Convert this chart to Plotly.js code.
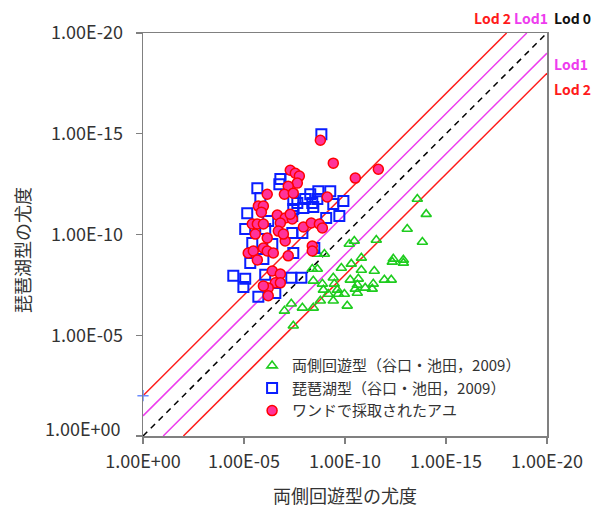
<!DOCTYPE html>
<html>
<head>
<meta charset="utf-8">
<script src="https://cdn.plot.ly/plotly-3.0.1.min.js"></script>
<style>html,body{margin:0;padding:0;background:#fff;}#chart{width:592px;height:511px;}</style>
</head>
<body>
<div id="chart"></div>
<script>
// Values are exponents: likelihood = 10^(-value)
const greenX = [13.58,14.02,13.08,13.83,11.55,10.46,10.21,8.63,8.98,12.39,12.34,12.89,12.89,10.31,10.81,9.82,10.81,11.45,8.38,8.63,8.43,8.88,9.42,9.47,10.26,10.66,10.61,11.40,11.95,12.29,8.93,9.62,9.67,9.97,10.51,11.00,11.35,10.61,9.17,8.78,9.42,10.11,7.34,7.89,8.43,7.00,7.44];
const greenY = [11.76,11.01,10.27,9.63,9.73,9.68,9.53,9.03,9.03,8.79,8.64,8.74,8.59,8.54,8.84,8.34,8.24,8.19,8.29,8.29,7.70,7.55,7.85,7.55,7.75,7.80,7.50,7.55,7.75,7.75,7.25,7.25,7.05,7.05,7.30,7.35,7.30,7.10,7.05,6.71,6.71,6.46,6.56,6.36,6.36,6.21,5.47];

const blueX = [8.83,5.66,5.81,6.80,6.75,7.29,5.16,7.64,8.03,8.28,8.68,9.27,7.94,7.44,8.38,8.43,9.42,9.92,9.07,9.72,6.20,7.39,5.06,6.05,5.41,6.40,7.39,7.89,5.31,5.96,7.44,8.48,4.47,5.06,4.97,6.05,7.34,7.84,6.55,5.71,7.44,8.63];
const blueY = [14.98,12.30,11.81,12.75,12.50,12.75,11.06,11.56,11.76,12.00,12.15,12.15,11.31,11.26,11.56,11.36,11.51,11.66,10.82,10.92,10.67,10.92,10.27,10.27,9.58,9.53,10.07,10.07,8.59,8.79,9.08,9.33,7.95,7.80,7.40,8.00,7.85,7.85,7.10,6.91,11.71,11.76];

const redX = [8.78,9.42,10.51,11.65,7.29,7.54,7.74,7.64,7.19,7.00,7.44,6.15,5.71,5.96,5.86,6.65,7.04,7.39,6.80,7.94,8.33,8.73,8.88,5.41,5.66,5.96,5.56,6.15,6.70,7.04,5.21,5.46,5.66,5.96,6.15,6.45,7.19,6.40,6.80,6.55,6.80,6.20,5.96,6.20,9.12,8.38,8.38,7.29,6.95];
const redY = [14.68,13.54,12.80,13.24,13.19,13.04,12.90,12.55,12.40,12.00,12.05,12.00,11.41,11.41,11.11,10.97,10.82,10.77,10.57,10.37,10.57,10.52,10.32,10.52,10.52,10.52,10.02,9.83,10.17,9.68,9.08,9.18,8.74,9.33,9.18,9.08,8.94,8.19,8.04,7.60,7.60,7.35,7.45,6.96,11.86,9.43,9.18,11.01,10.02];

const stray = {x:[0], y:[2]};

// LOD reference lines (exponent endpoints)
const lod0 = {x:[0,20], y:[0,20]};
const lod1Up = {x:[0,19], y:[1,20]};
const lod1Lo = {x:[1,20], y:[0,19]};
const lod2Up = {x:[0,18], y:[2,20]};
const lod2Lo = {x:[2,20], y:[0,18]};

const tickExp = [0,5,10,15,20];
const xTickText = ['1.00E+00','1.00E-05','1.00E-10','1.00E-15','1.00E-20'];
const yTickText = ['','1.00E-05','1.00E-10','1.00E-15','1.00E-20'];

const names = ['両側回遊型（谷口・池田，2009）','琵琶湖型（谷口・池田，2009）','ワンドで採取されたアユ'];

const toL = a => a.map(v => Math.pow(10, -v));
const FONT = '"Noto Sans CJK JP", "Noto Sans", sans-serif';
const RED = '#ff1a1a', MAG = '#ee3cee';

function line(o, color, dash){
  return {x:toL(o.x), y:toL(o.y), mode:'lines', showlegend:false, hoverinfo:'skip',
    line:{color:color, width:1.5, dash:dash||'solid'}};
}

const traces = [
  line(lod2Up, RED), line(lod2Lo, RED), line(lod1Up, MAG), line(lod1Lo, MAG),
  line(lod0, '#000000', '6px,5px'),
  {x:toL(stray.x), y:toL(stray.y), mode:'markers', showlegend:false, cliponaxis:false,
    marker:{symbol:'cross-thin', size:8, line:{color:'#6b8cff', width:1.5}}},
  {x:toL(greenX), y:toL(greenY), mode:'markers', name:names[0],
    marker:{symbol:'triangle-up-open', size:9, color:'#1ecc1e', line:{width:1.6}}},
  {x:toL(blueX), y:toL(blueY), mode:'markers', name:names[1],
    marker:{symbol:'square-open', size:10, color:'#0a1eff', line:{width:2}}},
  {x:toL(redX), y:toL(redY), mode:'markers', name:names[2],
    marker:{symbol:'circle', size:10, color:'#ff3399', line:{color:'#ff0000', width:1.5}}}
];

const axisCommon = {
  type:'log', range:[0,-20], showgrid:false, zeroline:false,
  showline:true, linecolor:'#808080', linewidth:1.5, mirror:true,
  ticks:'outside', ticklen:6, tickcolor:'#808080', tickwidth:1.2,
  tickfont:{family:FONT, size:18, color:'#333333'},
  tickvals: toL(tickExp)
};

const layout = {
  width:592, height:511,
  margin:{l:143, r:45, t:33, b:75},
  paper_bgcolor:'#ffffff', plot_bgcolor:'#ffffff',
  font:{family:FONT, color:'#333333'},
  xaxis: Object.assign({}, axisCommon, {ticktext:xTickText, ticklabelstandoff:3,
    title:{text:'両側回遊型の尤度', font:{family:FONT, size:18, color:'#333333'}, standoff:18}}),
  yaxis: Object.assign({}, axisCommon, {ticktext:yTickText, ticklabelstandoff:9}),
  legend:{x:0.27, y:0.215, xanchor:'left', yanchor:'top', bgcolor:'rgba(0,0,0,0)',
    font:{family:FONT, size:15, color:'#333333'}},
  showlegend:true,
  annotations:[
    {xref:'paper', yref:'paper', x:-0.2995, y:0.4615, xanchor:'center', yanchor:'middle', textangle:-90,
      text:'琵琶湖型の尤度', showarrow:false, font:{family:FONT, size:18, color:'#333333'}},
    {xref:'paper', yref:'y', x:0, y:0, xanchor:'right', yanchor:'middle', xshift:-20, yshift:8,
      text:'1.00E+00', showarrow:false, font:{family:FONT, size:18, color:'#333333'}},
    {xref:'paper', yref:'paper', x:0.865, y:1, yanchor:'bottom', yshift:3, xanchor:'center', text:'<b>Lod 2</b>', showarrow:false, font:{family:FONT, size:14, color:RED}},
    {xref:'paper', yref:'paper', x:0.96, y:1, yanchor:'bottom', yshift:3, xanchor:'center', text:'<b>Lod1</b>', showarrow:false, font:{family:FONT, size:14, color:MAG}},
    {xref:'paper', yref:'paper', x:1.0, y:1, yanchor:'bottom', yshift:3, xanchor:'left', xshift:5, text:'<b>Lod 0</b>', showarrow:false, font:{family:FONT, size:14, color:'#111111'}},
    {xref:'paper', yref:'paper', x:1.0, y:0.953, xanchor:'left', xshift:5, text:'<b>Lod1</b>', showarrow:false, font:{family:FONT, size:14, color:MAG}},
    {xref:'paper', yref:'paper', x:1.0, y:0.89, xanchor:'left', xshift:5, text:'<b>Lod 2</b>', showarrow:false, font:{family:FONT, size:14, color:RED}}
  ]
};

Plotly.newPlot('chart', traces, layout, {staticPlot:true, displayModeBar:false});
</script>
</body>
</html>
